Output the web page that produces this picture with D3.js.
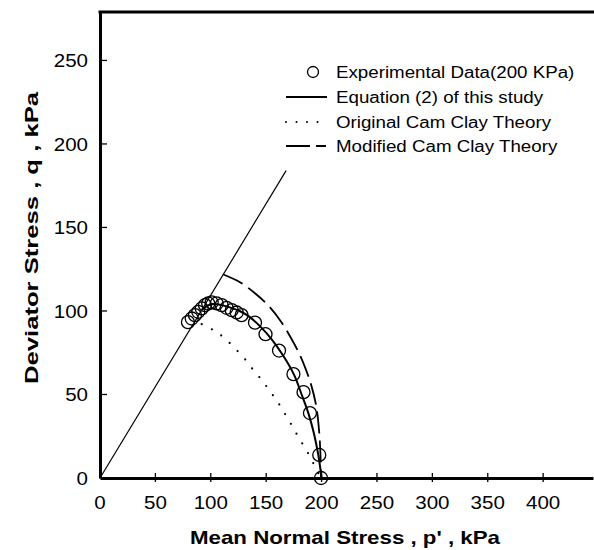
<!DOCTYPE html>
<html>
<head>
<meta charset="utf-8">
<script src="https://cdn.jsdelivr.net/npm/d3@7/dist/d3.min.js"></script>
<style>
  html, body { margin: 0; padding: 0; background: #fff; }
  svg { display: block; }
  text { font-family: "Liberation Sans", Arial, Helvetica, sans-serif; fill: #000; }
</style>
</head>
<body>
<script>
// ---- data ----
const xTicks = [0, 50, 100, 150, 200, 250, 300, 350, 400];
const yTicks = [0, 50, 100, 150, 200, 250];

// Experimental data (200 KPa): p', q
const expP = [79.4, 82.8, 85.7, 88.7, 91.8, 94.8, 97.7, 100.8, 105.3, 109.8, 114.3, 118.9, 123.4, 127.8, 139.9, 149.4, 161.6, 174.6, 183.7, 189.5, 197.9, 199.5];
const expQ = [93.3, 95.5, 97.5, 99.5, 101.5, 103.5, 104.5, 105.1, 104.5, 103.5, 101.9, 100.5, 99.1, 97.5, 93.0, 86.1, 76.3, 62.2, 51.4, 38.9, 13.8, 0];

// Equation (2) of this study
const eqP = [92, 97, 102, 110, 120, 126, 135, 145, 155, 165, 175, 182, 188, 193, 197, 200];
const eqQ = [100.7, 103.2, 104.2, 103.5, 101.5, 100, 96.5, 90.5, 83, 73.6, 62, 50, 39, 27, 14, 0];

// Original Cam Clay Theory
const occP = [91.8, 102.3, 112.2, 121.8, 131.1, 139.0, 146.5, 153.4, 160.4, 166.3, 172.4, 178.1, 183.8, 189.2, 194.0, 198.6];
const occQ = [92.1, 88.5, 83.9, 77.6, 71.0, 64.2, 58.2, 52.0, 45.5, 39.1, 32.3, 25.7, 19.3, 13.3, 6.8, 0.8];

// Modified Cam Clay Theory
const mccP = [110.8, 126.4, 139.9, 151.6, 162.5, 171.5, 178.7, 185.0, 190.4, 195.0, 197.7, 199.0, 199.5];
const mccQ = [122.0, 117.2, 110.6, 103.5, 94.5, 84.9, 76.0, 66.4, 56.2, 43.7, 28.7, 13.8, 0];

// Critical state line endpoints
const cslP = [0, 168];
const cslQ = [0, 184];

const legendLabels = ["Experimental Data(200 KPa)", "Equation (2) of this study", "Original Cam Clay Theory", "Modified Cam Clay Theory"];
const xTitle = "Mean Normal Stress , p' , kPa";
const yTitle = "Deviator Stress , q , kPa";

// ---- drawing ----
const W = 594, H = 550;
const svg = d3.select("body").append("svg").attr("width", W).attr("height", H);

const x = d3.scaleLinear().domain([0, 445]).range([100, 593]);
const y = d3.scaleLinear().domain([0, 279]).range([478, 12]);

function stretch(sel, f) {
  sel.each(function () {
    const L = this.getComputedTextLength();
    d3.select(this).attr("textLength", L * f).attr("lengthAdjust", "spacingAndGlyphs");
  });
}

const zip = (a, b) => a.map((v, i) => [v, b[i]]);
const line = d3.line().x(d => x(d[0])).y(d => y(d[1])).curve(d3.curveCatmullRom.alpha(0.5));
const straight = d3.line().x(d => x(d[0])).y(d => y(d[1]));

// axes frame
const xAxis = d3.axisBottom(x).tickValues(xTicks).tickSize(0).tickFormat("");
const yAxis = d3.axisLeft(y).tickValues(yTicks).tickSize(0).tickFormat("");
svg.append("g").attr("transform", `translate(0,${y(0)})`).call(xAxis)
  .call(g => g.select(".domain").attr("stroke", "#000").attr("stroke-width", 3));
svg.append("g").attr("transform", `translate(${x(0)},0)`).call(yAxis)
  .call(g => g.select(".domain").attr("stroke", "#000").attr("stroke-width", 3));
// top border
svg.append("line").attr("x1", x(0) - 1.5).attr("x2", W).attr("y1", y(279)).attr("y2", y(279))
  .attr("stroke", "#000").attr("stroke-width", 3);

// ticks
svg.append("g").selectAll("line").data(xTicks.slice(1)).join("line")
  .attr("x1", d => x(d)).attr("x2", d => x(d)).attr("y1", y(0) - 5).attr("y2", y(0) + 4)
  .attr("stroke", "#000").attr("stroke-width", 1.3);
svg.append("g").selectAll("line").data(yTicks.slice(1)).join("line")
  .attr("x1", x(0)).attr("x2", x(0) + 7).attr("y1", d => y(d)).attr("y2", d => y(d))
  .attr("stroke", "#000").attr("stroke-width", 1.3);

// tick labels
svg.append("g").selectAll("text").data(xTicks).join("text")
  .attr("x", d => x(d)).attr("y", 509).attr("text-anchor", "middle")
  .style("font-size", "19px").text(d => d).call(stretch, 1.08);
svg.append("g").selectAll("text").data(yTicks).join("text")
  .attr("x", 88).attr("y", d => y(d) + 7).attr("text-anchor", "end")
  .style("font-size", "19px").text(d => d).call(stretch, 1.08);

// titles
svg.append("text").attr("x", 345).attr("y", 544).attr("text-anchor", "middle")
  .style("font-size", "19px").style("font-weight", "bold").text(xTitle)
  .attr("textLength", 310).attr("lengthAdjust", "spacingAndGlyphs");
svg.append("text").attr("transform", "translate(38,238) rotate(-90)").attr("text-anchor", "middle")
  .style("font-size", "19px").style("font-weight", "bold").text(yTitle)
  .attr("textLength", 292).attr("lengthAdjust", "spacingAndGlyphs");

// critical state line
svg.append("path").datum(zip(cslP, cslQ)).attr("d", straight)
  .attr("fill", "none").attr("stroke", "#000").attr("stroke-width", 1.2);

// original cam clay (dotted)
svg.append("path").datum(zip(occP, occQ)).attr("d", line)
  .attr("fill", "none").attr("stroke", "#000").attr("stroke-width", 2.2)
  .attr("stroke-linecap", "round").attr("stroke-dasharray", "0 11.3");

// modified cam clay (dashed)
svg.append("path").datum(zip(mccP, mccQ)).attr("d", line)
  .attr("fill", "none").attr("stroke", "#000").attr("stroke-width", 1.8)
  .attr("stroke-dasharray", "22 7");

// equation (2) solid
svg.append("path").datum(zip(eqP, eqQ)).attr("d", line)
  .attr("fill", "none").attr("stroke", "#000").attr("stroke-width", 2);

// experimental circles
svg.append("g").selectAll("circle").data(zip(expP, expQ)).join("circle")
  .attr("cx", d => x(d[0])).attr("cy", d => y(d[1])).attr("r", 6.5)
  .attr("fill", "none").attr("stroke", "#000").attr("stroke-width", 1.3);

// legend
const lg = svg.append("g");
const rowY = [72, 97, 122, 146];
const sx0 = 286, sx1 = 327, tx = 336;
lg.append("circle").attr("cx", 313).attr("cy", rowY[0]).attr("r", 5.5)
  .attr("fill", "none").attr("stroke", "#000").attr("stroke-width", 1.3);
lg.append("line").attr("x1", sx0).attr("x2", sx1).attr("y1", rowY[1]).attr("y2", rowY[1])
  .attr("stroke", "#000").attr("stroke-width", 1.8);
lg.append("line").attr("x1", sx0).attr("x2", sx1).attr("y1", rowY[2]).attr("y2", rowY[2])
  .attr("stroke", "#000").attr("stroke-width", 2).attr("stroke-linecap", "round")
  .attr("stroke-dasharray", "0 10.5");
lg.append("line").attr("x1", sx0).attr("x2", sx1).attr("y1", rowY[3]).attr("y2", rowY[3])
  .attr("stroke", "#000").attr("stroke-width", 1.8).attr("stroke-dasharray", "24 6 10 20");
lg.selectAll("text").data(legendLabels).join("text")
  .attr("x", tx).attr("y", (d, i) => rowY[i] + 6)
  .style("font-size", "16px").text(d => d).call(stretch, 1.17);
</script>
</body>
</html>
